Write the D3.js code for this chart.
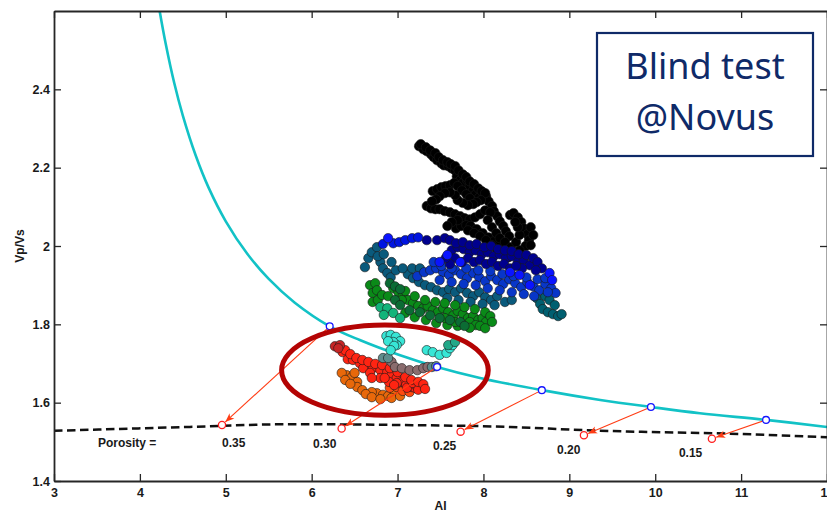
<!DOCTYPE html>
<html>
<head>
<meta charset="utf-8">
<script src="https://cdn.jsdelivr.net/npm/d3@7"></script>
<style>
  body { margin: 0; background: #fff; overflow: hidden; }
  svg { display: block; }
  .axis text { font-family: "Liberation Sans", Arial, sans-serif; font-weight: bold; font-size: 12.5px; fill: #1a1a1a; }
  .lbl { font-family: "Liberation Sans", Arial, sans-serif; font-weight: bold; font-size: 12px; fill: #1a1a1a; }
</style>
</head>
<body>
<div id="chart"></div>
<script>
// ---- data (AI, Vp/Vs) ----
const xTicks = [3, 4, 5, 6, 7, 8, 9, 10, 11, 12];
const yTicks = [1.4, 1.6, 1.8, 2, 2.2, 2.4];

// model trend line (cyan)
const trendCurve = [[4.20,2.639],[4.23,2.600],[4.30,2.517],[4.40,2.416],[4.50,2.333],[4.65,2.231],[4.80,2.149],[5.00,2.063],[5.25,1.980],[5.50,1.916],[5.80,1.856],[6.21,1.795],[6.56,1.760],[7.03,1.721],[7.46,1.691],[7.96,1.663],[8.68,1.632],[9.36,1.607],[9.95,1.589],[10.52,1.573],[11.29,1.556],[12.0,1.538]];
// dashed porosity line
const porosityLine = [[3.0,1.528],[4.58,1.538],[5.75,1.545],[7.03,1.543],[8.31,1.538],[9.16,1.530],[9.94,1.525],[10.67,1.522],[12.0,1.512]];

// points on the trend line and their projections on the porosity line
const trendMarks = [[6.21,1.795],[7.46,1.691],[8.68,1.632],[9.95,1.589],[11.29,1.556]];
const porosityMarks = [[4.956,1.543],[6.349,1.534],[7.734,1.526],[9.17,1.517],[10.66,1.508]];

const porosityLabels = ['Porosity =', '0.35', '0.30', '0.25', '0.20', '0.15'];
const porosityLabelAI = [3.512, 4.956, 6.015, 7.412, 8.856, 10.276];
const porosityLabelVpVs = [1.487, 1.487, 1.484, 1.479, 1.469, 1.461];

// ellipse highlight: centre and half-axes in data units
const ellipseCentre = [6.853, 1.683];
const ellipseHalf = [1.203, 0.115];

// well log points, grouped by colour
const blackPts = [[7.25,2.255],[7.30,2.247],[7.34,2.242],[7.39,2.234],[7.42,2.227],[7.46,2.219],[7.51,2.211],[7.54,2.206],[7.59,2.204],[7.63,2.198],[7.67,2.193],[7.69,2.178],[7.73,2.168],[7.76,2.161],[7.81,2.168],[7.84,2.153],[7.88,2.142],[7.91,2.132],[7.95,2.124],[7.41,2.140],[7.46,2.145],[7.51,2.150],[7.56,2.153],[7.61,2.155],[7.66,2.161],[7.70,2.153],[7.75,2.142],[7.80,2.132],[7.84,2.122],[8.03,2.127],[8.06,2.114],[8.10,2.102],[8.12,2.089],[8.16,2.076],[8.19,2.063],[8.23,2.051],[8.26,2.038],[8.30,2.025],[7.34,2.102],[7.39,2.096],[7.44,2.094],[7.49,2.094],[7.55,2.089],[7.61,2.086],[7.67,2.081],[7.73,2.076],[7.78,2.071],[7.84,2.068],[7.90,2.073],[7.96,2.081],[8.02,2.091],[8.31,2.079],[8.35,2.084],[8.40,2.073],[8.44,2.061],[8.47,2.045],[8.51,2.030],[8.53,2.015],[8.49,2.000],[8.42,1.989],[8.35,1.979],[8.29,1.971],[7.68,2.045],[7.74,2.051],[7.80,2.053],[7.85,2.051],[7.92,2.043],[7.99,2.033],[8.06,2.022],[8.12,2.012],[8.18,2.002],[8.24,1.992],
  [7.27,2.260],[7.33,2.252],[7.38,2.244],[7.44,2.237],[7.48,2.227],[7.53,2.219],[7.58,2.214],[7.62,2.209],[7.67,2.204],[7.71,2.193],[7.76,2.183],[7.80,2.176],[7.84,2.165],[7.89,2.158],[7.94,2.147],[7.98,2.140],[8.02,2.135],[7.97,2.117],[7.92,2.112],[7.88,2.107],[7.82,2.104],[7.76,2.110],[7.70,2.117],[7.67,2.130],[7.61,2.137],[7.55,2.135],[7.49,2.127],[7.45,2.119],[7.40,2.114],[8.08,2.086],[8.05,2.066],[8.10,2.048],[8.15,2.033],[8.19,2.020],[8.25,2.010],[8.32,1.997],[8.38,2.010],[8.42,2.028],[8.40,2.048],[8.37,2.061],[8.55,2.048],[8.58,2.028],[8.55,2.002],[7.82,2.040],[7.89,2.033],[7.96,2.025],[8.03,2.015],[8.10,2.002],[8.16,1.989],[8.22,1.982],[7.70,2.066],[7.63,2.061],[7.58,2.051]];
const navyPts = [[7.34,2.015],[7.46,2.015],[7.55,2.020],[7.61,2.015],[7.63,1.989],[7.70,1.997],[7.77,1.992],[7.84,1.984],[7.91,1.989],[7.98,1.979],[8.05,1.984],[8.12,1.974],[8.19,1.979],[8.26,1.969],[8.33,1.974],[8.40,1.959],[8.47,1.964],[8.54,1.951],[7.67,1.969],[7.75,1.959],[7.82,1.969],[7.89,1.959],[7.96,1.964],[8.03,1.954],[8.10,1.959],[8.17,1.949],[8.24,1.954],[8.31,1.943],
  [7.68,2.007],[7.76,2.010],[7.84,2.002],[7.92,2.005],[8.01,1.997],[8.09,2.000],[8.17,1.992],[8.25,1.989],[8.33,1.987],[8.41,1.979],[8.50,1.977],[8.58,1.969],[8.63,1.959],[8.68,1.943],[8.61,1.938],[8.45,1.943],[8.38,1.949],[7.61,1.954],[7.56,1.969]];
const bluePts = [[6.83,2.005],[6.95,2.007],[7.02,2.010],[7.09,2.015],[7.17,2.020],[7.24,2.022]];
const brightBluePts = [[6.89,2.020],[7.58,1.977],[7.73,1.959],[8.31,1.933],[8.54,1.900],[8.77,1.931],[8.80,1.913],[7.49,1.959],[8.42,1.926]];
const royalPts = [[7.23,1.923],[7.31,1.933],[7.38,1.938],[7.45,1.943],[7.53,1.933],[7.60,1.926],[7.67,1.938],[7.74,1.928],[7.81,1.918],[7.88,1.931],[7.95,1.920],[8.02,1.910],[8.09,1.923],[8.16,1.913],[8.23,1.903],[8.30,1.915],[8.37,1.905],[8.44,1.895],[8.51,1.908],[8.58,1.897],[8.65,1.887],[8.72,1.903],[8.79,1.892],
  [7.42,1.959],[7.51,1.949],[7.63,1.943],[7.80,1.943],[7.94,1.938],[8.08,1.936],[8.22,1.928],[8.35,1.923],[8.50,1.920],[8.63,1.915],[8.72,1.918],[8.84,1.880],[8.75,1.882],[7.49,1.913],[7.63,1.908],[7.77,1.903],[7.91,1.900],[8.05,1.892],[8.19,1.887],[8.33,1.882],[8.47,1.877],[8.59,1.872]];
const steelPts = [[6.62,1.946],[6.66,1.969],[6.70,1.984],[6.76,1.997],[7.12,1.928],[7.18,1.918],[7.25,1.908],[7.32,1.900],[7.39,1.895],[7.46,1.887],[7.53,1.882],[7.60,1.890],[7.67,1.882],[7.74,1.892],[7.81,1.880],[7.88,1.872],[7.95,1.882],[8.02,1.869],[8.09,1.862],[8.16,1.872],[6.80,1.959],[6.83,1.943],[6.88,1.931],[6.92,1.920],
  [7.58,1.867],[7.71,1.862],[7.85,1.857],[7.99,1.852],[8.13,1.849],[8.25,1.857],[8.33,1.862],[6.77,1.974],[6.84,1.979],[6.93,1.959],[6.98,1.938],[7.06,1.943],[7.17,1.943],[7.26,1.943]];
const darkTealPts = [[8.62,1.867],[8.66,1.852],[8.69,1.839],[8.75,1.831],[8.81,1.826],[8.87,1.821],[8.91,1.826],[8.72,1.872],[8.77,1.862],[8.83,1.849]];
const greenPts = [[6.68,1.900],[6.74,1.905],[6.71,1.880],[6.71,1.857],[6.77,1.862],[6.95,1.892],[7.01,1.882],[7.06,1.872],[7.12,1.862],[7.18,1.854],[7.24,1.847],[7.30,1.841],[7.35,1.847],[7.41,1.836],[7.47,1.831],[7.53,1.841],[7.59,1.831],[7.65,1.823],[7.70,1.834],[7.76,1.826],[7.82,1.816],[7.88,1.821],[7.94,1.811],[7.99,1.816],[8.03,1.806],[7.84,1.806],[7.91,1.798],
  [7.09,1.885],[7.20,1.872],[7.32,1.862],[7.44,1.857],[7.55,1.854],[7.67,1.849],[7.78,1.844],[7.90,1.839],[8.02,1.831],[8.08,1.821],[7.96,1.796],[7.84,1.791],[7.70,1.796],[7.58,1.798],[7.45,1.803],[7.33,1.811],[7.20,1.818],[7.09,1.829],[6.76,1.887],[6.82,1.875],
  [6.89,1.872],[7.05,1.862],[7.55,1.816],[7.67,1.806],[8.10,1.806],[8.02,1.790]];
const darkGreenPts = [[6.97,1.862],[7.03,1.849],[7.14,1.836],[7.26,1.831],[7.38,1.823],[7.49,1.816],[7.61,1.811],[7.73,1.806],[7.78,1.796],[6.91,1.905],[6.97,1.897],[7.03,1.890]];
const springPts = [[6.80,1.844],[6.88,1.841],[6.95,1.829],[7.03,1.816],[6.84,1.824]];
const cyanPts = [[6.87,1.770],[6.92,1.773],[6.98,1.768],[7.03,1.757],[6.99,1.747],[6.95,1.755],[6.89,1.757],[6.96,1.745],[6.92,1.734],[7.34,1.734],[7.41,1.729],[7.49,1.722],[7.57,1.727],[7.61,1.739],[7.64,1.747]];
const tealPts = [[7.59,1.747],[7.67,1.755]];
const grayTealPts = [[6.83,1.714],[6.89,1.714],[7.40,1.691],[7.45,1.693]];
const mauvePts = [[6.93,1.704],[6.97,1.691],[7.05,1.688],[7.14,1.683],[7.23,1.683],[7.30,1.688],[7.35,1.691]];
const darkRedPts = [[6.27,1.744],[6.33,1.747],[6.31,1.739]];
const redPts = [[6.36,1.729],[6.42,1.711],[6.48,1.709],[6.56,1.701],[6.64,1.691],[6.71,1.688],[6.80,1.683],[6.88,1.678],[6.93,1.671],[6.99,1.663],[7.05,1.653],[7.10,1.645],[7.16,1.640],[7.20,1.638],[6.60,1.688],[6.68,1.676],[6.80,1.663],[6.90,1.653],[6.99,1.650],[7.11,1.638],[7.23,1.640],[7.18,1.650],[7.26,1.645],[7.24,1.633],
  [6.39,1.734],[6.45,1.724],[6.52,1.714],[6.59,1.709],[6.66,1.704],[6.74,1.699],[6.82,1.696],[6.91,1.688],[7.00,1.678],[7.09,1.665],[7.16,1.658],[7.24,1.653],[7.30,1.647],[7.32,1.635],[6.70,1.663],[6.85,1.663],[6.96,1.645]];
const redOrangePts = [[6.91,1.638],[6.99,1.640],[7.06,1.630],[7.14,1.627]];
const orangePts = [[6.41,1.670],[6.47,1.666],[6.53,1.653],[6.53,1.640],[6.59,1.632],[6.76,1.624],[6.83,1.620],[6.70,1.627],[6.89,1.617],[6.97,1.624],[6.35,1.676],[6.50,1.676],
  [6.39,1.658],[6.45,1.648],[6.63,1.622],[6.70,1.614],[6.80,1.609],[6.93,1.612],[7.03,1.617]];

// draw order + fill colour per group
const groups = [
  { pts: blackPts, fill: '#000000' },
  { pts: steelPts, fill: '#0a5a7c' },
  { pts: darkTealPts, fill: '#005f70' },
  { pts: greenPts, fill: '#0a8a18' },
  { pts: darkGreenPts, fill: '#0b6c34' },
  { pts: springPts, fill: '#12b47a' },
  { pts: royalPts, fill: '#0836c8' },
  { pts: navyPts, fill: '#00008e' },
  { pts: bluePts, fill: '#0014e0' },
  { pts: brightBluePts, fill: '#0a14ff' },
  { pts: orangePts, fill: '#e8680a' },
  { pts: redOrangePts, fill: '#ff4a10' },
  { pts: redPts, fill: '#ff2412' },
  { pts: darkRedPts, fill: '#c42626' },
  { pts: mauvePts, fill: '#8a6c6e' },
  { pts: grayTealPts, fill: '#5e8c8c' },
  { pts: cyanPts, fill: '#38e6d6' },
  { pts: tealPts, fill: '#22a888' }
];

// ---- drawing ----
const width = 827, height = 512;
const plot = { left: 54, right: 827, top: 11, bottom: 481 };

const svg = d3.select('#chart').append('svg')
  .attr('width', width)
  .attr('height', height);

const x = d3.scaleLinear().domain([3, 12]).range([plot.left, plot.right]);
const y = d3.scaleLinear().domain([1.4, 2.6]).range([plot.bottom, plot.top]);

svg.append('clipPath').attr('id', 'clip')
  .append('rect')
  .attr('x', plot.left).attr('y', plot.top)
  .attr('width', plot.right - plot.left).attr('height', plot.bottom - plot.top);

const defs = svg.append('defs');
defs.append('marker')
  .attr('id', 'arrow')
  .attr('markerUnits', 'userSpaceOnUse')
  .attr('markerWidth', 12).attr('markerHeight', 10)
  .attr('viewBox', '-10 -5 12 10')
  .attr('refX', 0).attr('refY', 0)
  .attr('orient', 'auto')
  .append('path')
  .attr('d', 'M0,0 L-9,-3.6 L-6.5,0 L-9,3.6 Z')
  .attr('fill', '#ff3c14');

const plotG = svg.append('g').attr('clip-path', 'url(#clip)');

// cyan trend
plotG.append('path')
  .datum(trendCurve)
  .attr('d', d3.line().x(d => x(d[0])).y(d => y(d[1])).curve(d3.curveCatmullRom.alpha(0.5)))
  .attr('fill', 'none')
  .attr('stroke', '#12c2c6')
  .attr('stroke-width', 2.6);

// dashed porosity line
plotG.append('path')
  .datum(porosityLine)
  .attr('d', d3.line().x(d => x(d[0])).y(d => y(d[1])).curve(d3.curveMonotoneX))
  .attr('fill', 'none')
  .attr('stroke', '#111')
  .attr('stroke-width', 2.5)
  .attr('stroke-dasharray', '8.5,4.5');

// scatter
groups.forEach(g => {
  plotG.append('g').selectAll('circle')
    .data(g.pts)
    .enter()
    .append('circle')
    .attr('cx', d => x(d[0]))
    .attr('cy', d => y(d[1]))
    .attr('r', 4.7)
    .attr('fill', g.fill)
    .attr('stroke', '#1a1a1a')
    .attr('stroke-width', 0.6);
});

// arrows from trend line to porosity line
trendMarks.forEach((s, i) => {
  const e = porosityMarks[i];
  const x1 = x(s[0]), y1 = y(s[1]), x2 = x(e[0]), y2 = y(e[1]);
  const len = Math.hypot(x2 - x1, y2 - y1);
  const k = (len - 4.5) / len;
  svg.append('line')
    .attr('x1', x1).attr('y1', y1)
    .attr('x2', x1 + (x2 - x1) * k).attr('y2', y1 + (y2 - y1) * k)
    .attr('stroke', '#ff3c14')
    .attr('stroke-width', 1.1)
    .attr('marker-end', 'url(#arrow)');
});

svg.append('g').selectAll('circle')
  .data(trendMarks)
  .enter()
  .append('circle')
  .attr('cx', d => x(d[0]))
  .attr('cy', d => y(d[1]))
  .attr('r', 3.4)
  .attr('fill', '#fff')
  .attr('stroke', '#1414ff')
  .attr('stroke-width', 1.3);

svg.append('g').selectAll('circle')
  .data(porosityMarks)
  .enter()
  .append('circle')
  .attr('cx', d => x(d[0]))
  .attr('cy', d => y(d[1]))
  .attr('r', 3.6)
  .attr('fill', '#fff')
  .attr('stroke', '#ff2020')
  .attr('stroke-width', 1.3);

// porosity labels
svg.append('g').selectAll('text')
  .data(porosityLabels)
  .enter()
  .append('text')
  .attr('class', 'lbl')
  .attr('x', (d, i) => x(porosityLabelAI[i]))
  .attr('y', (d, i) => y(porosityLabelVpVs[i]))
  .text(d => d);

// axes
const fmt = d => String(+d.toFixed(1));
const xAxis = svg.append('g').attr('class', 'axis')
  .attr('transform', `translate(0,${plot.bottom})`)
  .call(d3.axisBottom(x).tickValues(xTicks).tickFormat(d3.format('d'))
    .tickSizeInner(-7).tickSizeOuter(0).tickPadding(7));
const yAxis = svg.append('g').attr('class', 'axis')
  .attr('transform', `translate(${plot.left},0)`)
  .call(d3.axisLeft(y).tickValues(yTicks).tickFormat(fmt)
    .tickSizeInner(-7).tickSizeOuter(0).tickPadding(4));
const topAxis = svg.append('g').attr('class', 'axis')
  .attr('transform', `translate(0,${plot.top})`)
  .call(d3.axisTop(x).tickValues(xTicks).tickFormat('')
    .tickSizeInner(-7).tickSizeOuter(0));
const rightAxis = svg.append('g').attr('class', 'axis')
  .attr('transform', `translate(${plot.right},0)`)
  .call(d3.axisRight(y).tickValues(yTicks).tickFormat('')
    .tickSizeInner(-7).tickSizeOuter(0));

[xAxis, yAxis, topAxis, rightAxis].forEach(a => {
  a.selectAll('line').attr('stroke', '#262626').attr('stroke-width', 1.3);
  a.select('.domain').attr('stroke', '#262626').attr('stroke-width', 1.8);
});

// axis titles
svg.append('text')
  .attr('class', 'lbl')
  .attr('transform', `translate(24,${(plot.top + plot.bottom) / 2}) rotate(-90)`)
  .attr('text-anchor', 'middle')
  .text('Vp/Vs');
svg.append('text')
  .attr('class', 'lbl')
  .attr('x', (plot.left + plot.right) / 2)
  .attr('y', 510)
  .attr('text-anchor', 'middle')
  .text('AI');

// highlight ellipse
svg.append('ellipse')
  .attr('cx', x(ellipseCentre[0]))
  .attr('cy', y(ellipseCentre[1]))
  .attr('rx', x(ellipseCentre[0] + ellipseHalf[0]) - x(ellipseCentre[0]))
  .attr('ry', y(ellipseCentre[1] - ellipseHalf[1]) - y(ellipseCentre[1]))
  .attr('fill', 'none')
  .attr('stroke', '#b40404')
  .attr('stroke-width', 5);

// annotation box
const box = svg.append('g');
box.append('rect')
  .attr('x', 597).attr('y', 33)
  .attr('width', 216).attr('height', 123)
  .attr('fill', '#fff')
  .attr('stroke', '#0f2a68')
  .attr('stroke-width', 2.2);
box.selectAll('text')
  .data(['Blind test', '@Novus'])
  .enter()
  .append('text')
  .attr('x', 705)
  .attr('y', (d, i) => 79 + i * 51)
  .attr('text-anchor', 'middle')
  .style('font-family', '"Noto Sans", "Open Sans", sans-serif')
  .style('font-size', '36px')
  .style('fill', '#0f2a68')
  .text(d => d);
</script>
</body>
</html>
